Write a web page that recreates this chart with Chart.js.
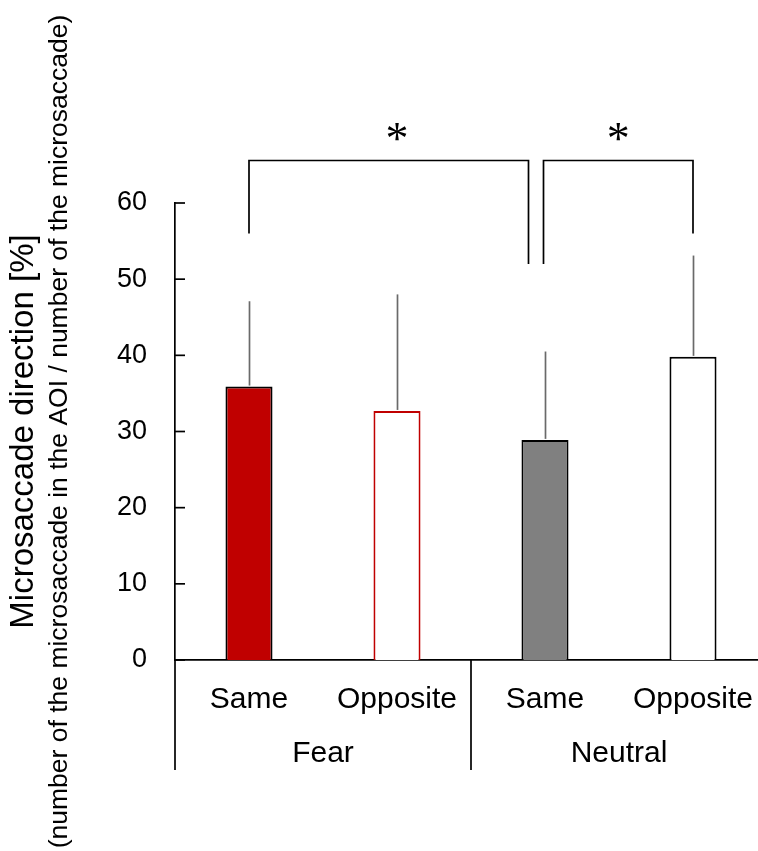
<!DOCTYPE html>
<html>
<head>
<meta charset="utf-8">
<script src="https://cdn.jsdelivr.net/npm/chart.js@4.4.1/dist/chart.umd.min.js"></script>
<style>
  html, body { margin: 0; padding: 0; background: #fff; overflow: hidden; }
  #wrap { width: 790px; height: 851px; }
</style>
</head>
<body>
<div id="wrap"><canvas id="chart" width="790" height="851"></canvas></div>
<script>
// ======================
// DATA
// ======================
const conditions = ['Same', 'Opposite', 'Same', 'Opposite'];
const emotions = ['Fear', 'Neutral'];
const meanPct = [35.9, 32.7, 28.9, 39.8];
const sdPct = [11.2, 15.3, 11.6, 13.3];
const yTicks = [0, 10, 20, 30, 40, 50, 60];

// significance pairs (bar indices) and where each leg stops (%)
const sigPairs = [[0, 2], [2, 3]];
const sigLegEnds = [[56, 52], [52, 56]];
const sigLabels = ['*', '*'];

const FONT = "'Liberation Sans', Arial, sans-serif";

const barFill = ['#c00000', '#ffffff', '#808080', '#ffffff'];
const barEdge = ['#000000', '#c00000', '#000000', '#000000'];

// ======================
// EXTRA DRAWING
// ======================
const extras = {
  id: 'extras',

  afterDatasetsDraw(chart) {
    const { ctx, chartArea: a, scales: { x, y } } = chart;
    ctx.save();

    // error bars (upper only)
    ctx.strokeStyle = '#6a6a6a';
    ctx.lineWidth = 1.7;
    meanPct.forEach((m, i) => {
      const px = Math.round(x.getPixelForValue(i)) + 0.5;
      ctx.beginPath();
      ctx.moveTo(px, y.getPixelForValue(m) - 1);
      ctx.lineTo(px, y.getPixelForValue(m + sdPct[i]));
      ctx.stroke();
    });

    // inward tick marks on y axis
    ctx.strokeStyle = '#000';
    ctx.lineWidth = 1.7;
    y.ticks.forEach(t => {
      const py = y.getPixelForValue(t.value);
      ctx.beginPath();
      ctx.moveTo(a.left, py);
      ctx.lineTo(a.left + 10, py);
      ctx.stroke();
    });

    ctx.restore();
  },

  afterDraw(chart) {
    const { ctx, chartArea: a, scales: { x, y } } = chart;
    ctx.save();
    ctx.strokeStyle = '#000';
    ctx.fillStyle = '#000';
    ctx.lineWidth = 1.7;

    // group separators below the axis
    const sepBottom = a.bottom + 110;
    const seps = [a.left, (x.getPixelForValue(1) + x.getPixelForValue(2)) / 2, a.right];
    seps.forEach(sx => {
      ctx.beginPath();
      ctx.moveTo(sx, a.bottom);
      ctx.lineTo(sx, sepBottom);
      ctx.stroke();
    });

    // group labels
    ctx.font = '30px ' + FONT;
    ctx.textAlign = 'center';
    ctx.textBaseline = 'middle';
    emotions.forEach((g, gi) => {
      const cx = (x.getPixelForValue(gi * 2) + x.getPixelForValue(gi * 2 + 1)) / 2;
      ctx.fillText(g, cx, a.bottom + 94);
    });

    // significance brackets
    const topY = Math.round(y.getPixelForValue(65.6)) + 0.5;
    const gapX = x.getPixelForValue(2) - 9;
    sigPairs.forEach(([from, to], k) => {
      let x1 = x.getPixelForValue(from);
      let x2 = x.getPixelForValue(to);
      if (to === 2) x2 = gapX - 7.5;
      if (from === 2) x1 = gapX + 7.5;
      ctx.beginPath();
      ctx.moveTo(x1, y.getPixelForValue(sigLegEnds[k][0]));
      ctx.lineTo(x1, topY);
      ctx.lineTo(x2, topY);
      ctx.lineTo(x2, y.getPixelForValue(sigLegEnds[k][1]));
      ctx.stroke();

      ctx.font = "46px 'Liberation Serif', 'Times New Roman', serif";
      ctx.textAlign = 'center';
      ctx.textBaseline = 'alphabetic';
      const sx = from === 0 ? x.getPixelForValue(1) : (x1 + x2) / 2;
      ctx.fillText(sigLabels[k], sx, topY - 7);
    });

    // y axis titles (two lines, rotated)
    const cy = (a.top + a.bottom) / 2;
    ctx.textAlign = 'center';
    ctx.textBaseline = 'alphabetic';
    ctx.save();
    ctx.translate(33, cy);
    ctx.rotate(-Math.PI / 2);
    ctx.font = '33px ' + FONT;
    ctx.fillText('Microsaccade direction [%]', 0, 0);
    ctx.restore();

    ctx.save();
    ctx.translate(67, cy);
    ctx.rotate(-Math.PI / 2);
    ctx.font = '26.5px ' + FONT;
    ctx.fillText('(number of the microsaccade in the AOI / number of the microsaccade)', 0, 0);
    ctx.restore();

    ctx.restore();
  }
};

// ======================
// CHART
// ======================
new Chart(document.getElementById('chart'), {
  type: 'bar',
  data: {
    labels: conditions,
    datasets: [{
      data: meanPct,
      backgroundColor: barFill,
      borderColor: barEdge,
      borderWidth: 2,
      categoryPercentage: 1,
      barPercentage: 0.318
    }]
  },
  options: {
    responsive: false,
    animation: false,
    devicePixelRatio: 1,
    layout: { padding: { top: 203, right: 23, left: 0, bottom: 0 } },
    plugins: {
      legend: { display: false },
      tooltip: { enabled: false }
    },
    scales: {
      x: {
        grid: { display: false, drawTicks: false },
        border: { display: true, color: '#000', width: 1.7 },
        ticks: {
          color: '#000',
          font: { family: FONT, size: 30 },
          padding: 22,
          maxRotation: 0,
          autoSkip: false
        },
        afterFit: s => { s.height = 191; }
      },
      y: {
        min: 0,
        max: 60,
        grid: { display: false, drawTicks: false },
        border: { display: true, color: '#000', width: 1.7 },
        afterBuildTicks: s => { s.ticks = yTicks.map(v => ({ value: v })); },
        ticks: {
          color: '#000',
          font: { family: FONT, size: 27 },
          padding: 28
        },
        afterFit: s => { s.width = 175; }
      }
    }
  },
  plugins: [extras]
});
</script>
</body>
</html>
